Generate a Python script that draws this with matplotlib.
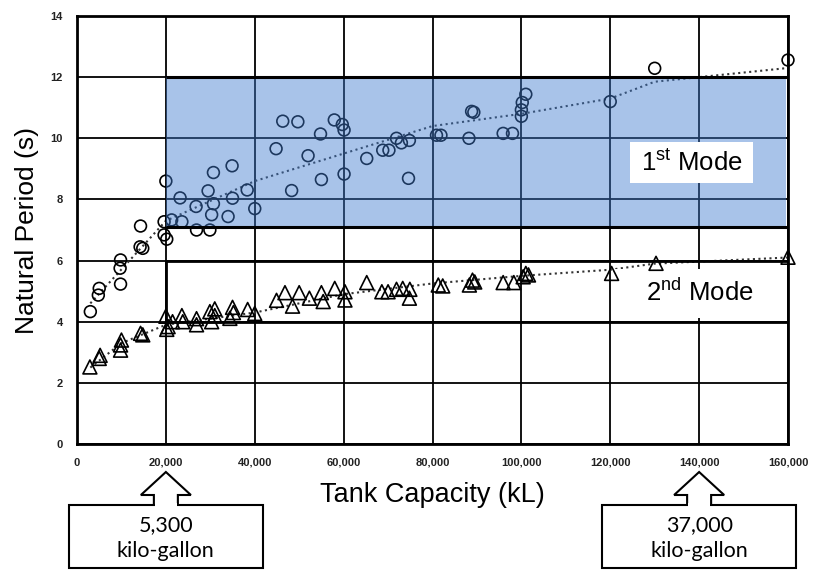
import matplotlib.pyplot as plt
from matplotlib.patches import Rectangle, Polygon
from matplotlib.transforms import IdentityTransform

# tank capacity (kL) vs natural period (s)
mode1_cap = [3000, 4800, 5000, 9800, 9700, 9800, 14200, 14800, 14300, 19600,
             20200, 19600, 20000, 21300, 23600, 23200, 26800, 26900, 29900, 29500,
             30700, 30300, 30700, 34000, 34900, 35000, 38300, 40000, 44800, 46300,
             48300, 49700, 52000, 54800, 55000, 57900, 59700, 60100, 60100, 65200,
             68800, 70200, 71900, 73000, 74800, 74600, 80900, 81900, 88200, 88800,
             89300, 95900, 98000, 100000, 100000, 100200, 101000, 120000, 130000, 160000]
mode1_period = [4.33, 4.87, 5.09, 5.23, 5.75, 6.02, 6.45, 6.40, 7.13, 6.84,
                6.70, 7.27, 8.60, 7.33, 7.27, 8.05, 7.77, 7.0, 7.0, 8.28,
                8.88, 7.50, 7.86, 7.44, 9.10, 8.04, 8.31, 7.70, 9.66, 10.56,
                8.29, 10.54, 9.43, 10.14, 8.65, 10.6, 10.45, 10.27, 8.83, 9.34,
                9.61, 9.61, 10.0, 9.85, 9.93, 8.69, 10.1, 10.1, 10.0, 10.88,
                10.85, 10.16, 10.16, 10.72, 10.93, 11.17, 11.44, 11.2, 12.29, 12.56]

mode2_cap = [2900, 5000, 5200, 9800, 9800, 10000, 14300, 14800, 20000, 20200,
             20500, 21500, 23600, 23800, 26900, 26900, 29900, 30300, 31000, 31000,
             34400, 35000, 35200, 38400, 40000, 44900, 46800, 48500, 50000, 52300,
             55000, 55400, 58000, 60300, 60300, 65200, 68600, 70000, 71900, 73300,
             74900, 74800, 81300, 82300, 88300, 89000, 89500, 95900, 98300, 100400,
             101000, 101600, 120300, 130300, 160000]
mode2_period = [2.52, 2.80, 2.90, 3.07, 3.24, 3.40, 3.62, 3.57, 4.18, 3.75,
                3.84, 4.0, 4.2, 4.0, 4.1, 3.9, 4.33, 4.0, 4.42, 4.2,
                4.11, 4.47, 4.3, 4.4, 4.27, 4.7, 4.95, 4.51, 4.95, 4.77,
                4.95, 4.66, 5.09, 4.98, 4.71, 5.28, 4.98, 4.98, 5.06, 5.09,
                5.06, 4.77, 5.2, 5.17, 5.2, 5.36, 5.3, 5.28, 5.28, 5.47,
                5.58, 5.53, 5.58, 5.91, 6.11]

# dotted trend lines
trend1_cap = [3000, 20000, 40000, 60000, 80000, 100000, 120000, 130000, 160000]
trend1_period = [4.6, 7.3, 8.6, 9.5, 10.4, 10.8, 11.3, 11.85, 12.3]
trend2_cap = [3000, 10000, 15000, 20000, 40000, 60000, 80000, 100000, 120000, 130000, 160000]
trend2_period = [2.5, 3.3, 3.6, 3.9, 4.3, 4.9, 5.25, 5.5, 5.7, 5.9, 6.1]

xticks = [0, 20000, 40000, 60000, 80000, 100000, 120000, 140000, 160000]
xtick_labels = ['0', '20,000', '40,000', '60,000', '80,000', '100,000', '120,000', '140,000', '160,000']
yticks = [0, 2, 4, 6, 8, 10, 12, 14]

# capacity ranges and their kilo-gallon equivalents
marks_cap = [20000, 140000]
marks_text = ['5,300\nkilo-gallon', '37,000\nkilo-gallon']

plt.rcParams['font.family'] = ['Liberation Sans', 'DejaVu Sans']
plt.rcParams['mathtext.fontset'] = 'custom'
plt.rcParams['mathtext.rm'] = 'Liberation Sans'

W, H = 814, 572
fig = plt.figure(figsize=(W / 100, H / 100), dpi=100)
ax = fig.add_axes([77 / W, 1 - 444 / H, (788 - 77) / W, (444 - 16) / H])

ax.set_xlim(0, 160000)
ax.set_ylim(0, 14)
ax.set_xticks(xticks)
ax.set_xticklabels(xtick_labels)
ax.set_yticks(yticks)
ax.tick_params(length=0, labelsize=8, pad=10, colors='#222222')
for lab in ax.get_xticklabels() + ax.get_yticklabels():
    lab.set_fontweight('bold')
ax.grid(True, color='black', linewidth=1.3)
ax.set_axisbelow(True)
for spine in ax.spines.values():
    spine.set_linewidth(2)

ax.plot(trend1_cap, trend1_period, linestyle=':', color='#333333', linewidth=1.5, zorder=2)
ax.plot(trend2_cap, trend2_period, linestyle=':', color='#333333', linewidth=1.5, zorder=2)
ax.scatter(mode1_cap, mode1_period, s=72, marker='o', facecolors='none',
           edgecolors='black', linewidths=1.2, zorder=3, clip_on=False)
ax.scatter(mode2_cap, mode2_period, s=100, marker='^', facecolors='none',
           edgecolors='black', linewidths=1.2, zorder=8, clip_on=False)

# 1st mode band (shaded) and 2nd mode band (outlined)
ax.add_patch(Rectangle((20000, 7.1), 139500, 4.9, facecolor='#3f7bd0',
                       alpha=0.45, edgecolor='none', zorder=5))
ax.hlines([7.1, 12], 20000, 160000, colors='black', linewidth=2.2, zorder=6)
ax.add_patch(Rectangle((20000, 4), 140000, 2, facecolor='none',
                       edgecolor='black', linewidth=2, zorder=4))

ax.add_patch(Rectangle((124400, 8.54), 27700, 1.34, facecolor='white',
                       edgecolor='none', zorder=7))
ax.text(138300, 9.21, r'1$^{\rm st}$ Mode', fontsize=18.5, ha='center', va='center', zorder=8)
ax.add_patch(Rectangle((120600, 4.12), 29500, 1.62, facecolor='white',
                       edgecolor='none', zorder=7))
ax.text(140200, 4.97, r'2$^{\rm nd}$ Mode', fontsize=18.5, ha='center', va='center', zorder=8)

ax.set_ylabel('Natural Period (s)', fontsize=19)
ax.yaxis.set_label_coords(-0.054, 0.5)
ax.set_xlabel('Tank Capacity (kL)', fontsize=19.5)
ax.xaxis.set_label_coords(0.5, -0.089)

# block arrows + boxes under the x axis (pixel coordinates, origin bottom-left)
for cap, txt in zip(marks_cap, marks_text):
    cx = ax.transData.transform((cap, 0))[0]
    tip, base, top = H - 472, H - 495, H - 505
    arrow = [(cx, tip), (cx + 25, base), (cx + 12, base), (cx + 12, top),
             (cx - 12, top), (cx - 12, base), (cx - 25, base)]
    fig.add_artist(Polygon(arrow, closed=True, facecolor='white', edgecolor='black',
                           linewidth=1.5, transform=IdentityTransform()))
    fig.add_artist(Rectangle((cx - 97, H - 568), 194, 63, facecolor='white',
                             edgecolor='black', linewidth=1.5, transform=IdentityTransform()))
    fig.add_artist(Rectangle((cx - 11, top - 2), 22, 4, facecolor='white',
                             edgecolor='none', transform=IdentityTransform()))
    fig.text(cx / W, (H - 538) / H, txt, ha='center', va='center', fontsize=15.5,
             family='Lato', linespacing=1.35)

fig.savefig('out.png', dpi=100)
